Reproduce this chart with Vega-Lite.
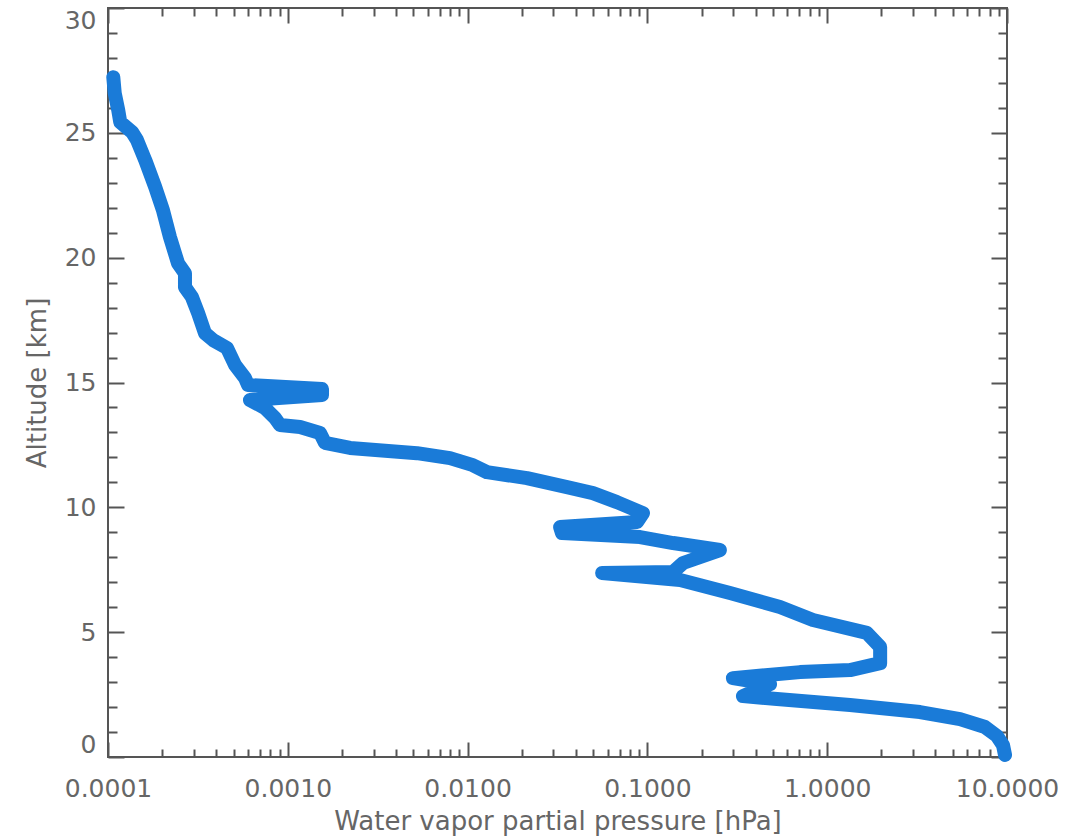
{
  "$schema": "https://vega.github.io/schema/vega-lite/v6.json",
  "width": 899,
  "height": 749,
  "autosize": "none",
  "padding": {"left": 108, "top": 8, "right": 77, "bottom": 82},
  "background": "white",
  "config": {
    "view": {"stroke": "#555555", "strokeWidth": 2},
    "axis": {
      "grid": false,
      "domain": false,
      "tickColor": "#555555",
      "tickWidth": 2,
      "labelFont": "DejaVu Sans",
      "labelFontSize": 25,
      "labelColor": "#666666",
      "titleFont": "DejaVu Sans",
      "titleFontSize": 26,
      "titleFontWeight": "normal",
      "titleColor": "#666666"
    }
  },
  "data": {
    "values": [
      {"i": 0, "alt": 27.23, "p": 0.000107},
      {"i": 1, "alt": 26.59, "p": 0.000109},
      {"i": 2, "alt": 25.91, "p": 0.000114},
      {"i": 3, "alt": 25.43, "p": 0.000117},
      {"i": 4, "alt": 25.03, "p": 0.000136},
      {"i": 5, "alt": 24.71, "p": 0.000145},
      {"i": 6, "alt": 23.91, "p": 0.000161},
      {"i": 7, "alt": 22.83, "p": 0.000183},
      {"i": 8, "alt": 21.91, "p": 0.000202},
      {"i": 9, "alt": 20.83, "p": 0.000221},
      {"i": 10, "alt": 19.78, "p": 0.000245},
      {"i": 11, "alt": 19.38, "p": 0.000268},
      {"i": 12, "alt": 18.82, "p": 0.000268},
      {"i": 13, "alt": 18.42, "p": 0.000293},
      {"i": 14, "alt": 17.78, "p": 0.000317},
      {"i": 15, "alt": 16.98, "p": 0.000346},
      {"i": 16, "alt": 16.70, "p": 0.000384},
      {"i": 17, "alt": 16.38, "p": 0.000459},
      {"i": 18, "alt": 15.70, "p": 0.000509},
      {"i": 19, "alt": 15.18, "p": 0.000578},
      {"i": 20, "alt": 14.90, "p": 0.000601},
      {"i": 21, "alt": 14.74, "p": 0.00155},
      {"i": 22, "alt": 14.50, "p": 0.00155},
      {"i": 23, "alt": 14.30, "p": 0.000616},
      {"i": 24, "alt": 13.98, "p": 0.000746},
      {"i": 25, "alt": 13.58, "p": 0.000849},
      {"i": 26, "alt": 13.30, "p": 0.000905},
      {"i": 27, "alt": 13.22, "p": 0.00117},
      {"i": 28, "alt": 12.98, "p": 0.00151},
      {"i": 29, "alt": 12.58, "p": 0.00161},
      {"i": 30, "alt": 12.38, "p": 0.00222},
      {"i": 31, "alt": 12.17, "p": 0.00523},
      {"i": 32, "alt": 11.97, "p": 0.00798},
      {"i": 33, "alt": 11.69, "p": 0.0107},
      {"i": 34, "alt": 11.41, "p": 0.0128},
      {"i": 35, "alt": 11.17, "p": 0.0214},
      {"i": 36, "alt": 10.81, "p": 0.0357},
      {"i": 37, "alt": 10.57, "p": 0.0498},
      {"i": 38, "alt": 10.21, "p": 0.0677},
      {"i": 39, "alt": 9.77, "p": 0.0945},
      {"i": 40, "alt": 9.41, "p": 0.0875},
      {"i": 41, "alt": 9.21, "p": 0.0327},
      {"i": 42, "alt": 8.97, "p": 0.0335},
      {"i": 43, "alt": 8.81, "p": 0.0910},
      {"i": 44, "alt": 8.57, "p": 0.139},
      {"i": 45, "alt": 8.29, "p": 0.253},
      {"i": 46, "alt": 7.77, "p": 0.158},
      {"i": 47, "alt": 7.41, "p": 0.139},
      {"i": 48, "alt": 7.37, "p": 0.0560},
      {"i": 49, "alt": 7.09, "p": 0.152},
      {"i": 50, "alt": 6.57, "p": 0.288},
      {"i": 51, "alt": 6.01, "p": 0.546},
      {"i": 52, "alt": 5.49, "p": 0.833},
      {"i": 53, "alt": 4.97, "p": 1.66},
      {"i": 54, "alt": 4.41, "p": 1.97},
      {"i": 55, "alt": 3.76, "p": 1.97},
      {"i": 56, "alt": 3.48, "p": 1.34},
      {"i": 57, "alt": 3.40, "p": 0.706},
      {"i": 58, "alt": 3.16, "p": 0.299},
      {"i": 59, "alt": 2.92, "p": 0.481},
      {"i": 60, "alt": 2.44, "p": 0.340},
      {"i": 61, "alt": 2.32, "p": 0.526},
      {"i": 62, "alt": 2.08, "p": 1.34},
      {"i": 63, "alt": 1.80, "p": 3.28},
      {"i": 64, "alt": 1.52, "p": 5.48},
      {"i": 65, "alt": 1.20, "p": 7.55},
      {"i": 66, "alt": 0.84, "p": 8.80},
      {"i": 67, "alt": 0.48, "p": 9.50},
      {"i": 68, "alt": 0.08, "p": 9.75}
    ]
  },
  "resolve": {"axis": {"x": "independent", "y": "independent"}},
  "layer": [
    {
      "mark": {"type": "line", "color": "#1a7bd8", "strokeWidth": 14, "strokeCap": "round", "strokeJoin": "round"},
      "encoding": {
        "x": {
          "field": "p", "type": "quantitative",
          "scale": {"type": "log", "domain": [0.0001, 10], "nice": false},
          "axis": {
            "orient": "bottom",
            "values": [0.0001, 0.001, 0.01, 0.1, 1, 10],
            "format": ".4f",
            "tickSize": -15,
            "labelPadding": 34,
            "labelFlush": false,
            "labelOverlap": false,
            "title": "Water vapor partial pressure [hPa]",
            "titlePadding": 7
          }
        },
        "y": {
          "field": "alt", "type": "quantitative",
          "scale": {"domain": [0, 30], "nice": false, "zero": false},
          "axis": {
            "orient": "left",
            "values": [0, 5, 10, 15, 20, 25, 30],
            "tickSize": -16,
            "labelPadding": 28,
            "labelFlush": true,
            "title": "Altitude [km]",
            "titlePadding": 14
          }
        },
        "order": {"field": "i", "type": "quantitative"}
      }
    },
    {
      "mark": {"type": "line", "strokeOpacity": 0},
      "encoding": {
        "x": {
          "field": "p", "type": "quantitative",
          "axis": {
            "orient": "bottom",
            "values": [0.0002, 0.0003, 0.0004, 0.0005, 0.0006, 0.0007, 0.0008, 0.0009, 0.002, 0.003, 0.004, 0.005, 0.006, 0.007, 0.008, 0.009, 0.02, 0.03, 0.04, 0.05, 0.06, 0.07, 0.08, 0.09, 0.2, 0.3, 0.4, 0.5, 0.6, 0.7, 0.8, 0.9, 2, 3, 4, 5, 6, 7, 8, 9],
            "tickSize": -8,
            "labels": false,
            "title": null
          }
        },
        "y": {
          "field": "alt", "type": "quantitative",
          "axis": {
            "orient": "left",
            "values": [1, 2, 3, 4, 6, 7, 8, 9, 11, 12, 13, 14, 16, 17, 18, 19, 21, 22, 23, 24, 26, 27, 28, 29],
            "tickSize": -9,
            "labels": false,
            "title": null
          }
        },
        "order": {"field": "i", "type": "quantitative"}
      }
    },
    {
      "mark": {"type": "line", "strokeOpacity": 0},
      "encoding": {
        "x": {
          "field": "p", "type": "quantitative",
          "axis": {
            "orient": "top",
            "values": [0.0001, 0.001, 0.01, 0.1, 1, 10],
            "tickSize": -15,
            "labels": false,
            "title": null
          }
        },
        "y": {
          "field": "alt", "type": "quantitative",
          "axis": {
            "orient": "right",
            "values": [0, 5, 10, 15, 20, 25, 30],
            "tickSize": -16,
            "labels": false,
            "title": null
          }
        },
        "order": {"field": "i", "type": "quantitative"}
      }
    },
    {
      "mark": {"type": "line", "strokeOpacity": 0},
      "encoding": {
        "x": {
          "field": "p", "type": "quantitative",
          "axis": {
            "orient": "top",
            "values": [0.0002, 0.0003, 0.0004, 0.0005, 0.0006, 0.0007, 0.0008, 0.0009, 0.002, 0.003, 0.004, 0.005, 0.006, 0.007, 0.008, 0.009, 0.02, 0.03, 0.04, 0.05, 0.06, 0.07, 0.08, 0.09, 0.2, 0.3, 0.4, 0.5, 0.6, 0.7, 0.8, 0.9, 2, 3, 4, 5, 6, 7, 8, 9],
            "tickSize": -8,
            "labels": false,
            "title": null
          }
        },
        "y": {
          "field": "alt", "type": "quantitative",
          "axis": {
            "orient": "right",
            "values": [1, 2, 3, 4, 6, 7, 8, 9, 11, 12, 13, 14, 16, 17, 18, 19, 21, 22, 23, 24, 26, 27, 28, 29],
            "tickSize": -9,
            "labels": false,
            "title": null
          }
        },
        "order": {"field": "i", "type": "quantitative"}
      }
    }
  ]
}
